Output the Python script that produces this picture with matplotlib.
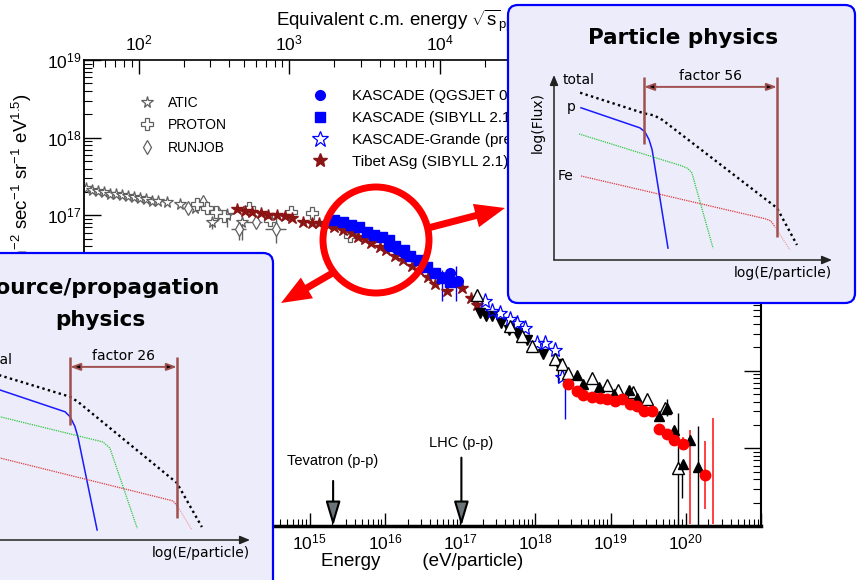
import numpy as np
import matplotlib
matplotlib.use("Agg")
import matplotlib.pyplot as plt
from matplotlib.patches import FancyBboxPatch, Circle, FancyArrow, ArrowStyle
from matplotlib.lines import Line2D
from matplotlib.ticker import LogLocator, FuncFormatter, NullFormatter

plt.rcParams['font.family'] = ['Liberation Sans', 'DejaVu Sans']
plt.rcParams['mathtext.fontset'] = 'custom'
plt.rcParams['mathtext.rm'] = 'Liberation Sans'
plt.rcParams['mathtext.it'] = 'Liberation Sans:italic'
plt.rcParams['mathtext.bf'] = 'Liberation Sans:bold'
plt.rcParams['mathtext.default'] = 'regular'

# %% data: log10(E / eV) and log10(E^2.5 J(E))
atic_logE = [12.02, 12.10, 12.18, 12.26, 12.34, 12.42, 12.50, 12.58, 12.66, 12.74,
             12.82, 12.90, 12.98, 13.10, 13.28, 13.47, 13.70, 13.90, 14.10]
atic_logF = [17.35, 17.32, 17.31, 17.30, 17.28, 17.27, 17.26, 17.25, 17.23, 17.22,
             17.21, 17.19, 17.18, 17.17, 17.14, 17.10, 16.91, 17.00, 16.91]

proton_logE = [13.50, 13.64, 13.75, 13.86, 14.20, 14.47, 14.75, 15.03, 15.53]
proton_logF = [17.14, 17.10, 17.04, 16.99, 17.09, 16.94, 17.04, 17.03, 16.74]

runjob_logE = [13.38, 13.58, 13.78, 14.06, 14.28, 14.55]
runjob_logF = [17.09, 17.17, 17.03, 16.83, 16.91, 16.82]

tibet_logE = [14.03, 14.14, 14.24, 14.35, 14.45, 14.56, 14.67, 14.77, 14.91, 15.03,
              15.13, 15.24, 15.33, 15.44, 15.56, 15.64, 15.73, 15.82, 15.93, 16.02,
              16.13, 16.24, 16.36, 16.46, 16.57, 16.66, 16.82, 17.03, 17.15, 17.23]
tibet_logF = [17.08, 17.06, 17.04, 17.03, 17.01, 17.00, 16.99, 16.96, 16.92, 16.90,
              16.90, 16.87, 16.85, 16.81, 16.77, 16.72, 16.70, 16.65, 16.59, 16.55,
              16.48, 16.42, 16.35, 16.29, 16.20, 16.12, 16.03, 16.06, 15.93, 15.84]

kas_sib_logE = [15.33, 15.44, 15.55, 15.65, 15.76, 15.86, 15.96, 16.05, 16.14, 16.25,
                16.34, 16.45, 16.56, 16.66, 16.76, 16.86]
kas_sib_logF = [16.94, 16.91, 16.88, 16.85, 16.79, 16.75, 16.72, 16.68, 16.60, 16.55,
                16.48, 16.42, 16.34, 16.26, 16.19, 16.14]

kas_qgs_logE = [16.06, 16.16, 16.25, 16.34, 16.44, 16.54, 16.65, 16.76, 16.86, 16.97]
kas_qgs_logF = [16.60, 16.57, 16.52, 16.47, 16.42, 16.34, 16.26, 16.21, 16.26, 16.16]

grande_logE = [17.33, 17.43, 17.53, 17.66, 17.75, 17.86, 18.02, 18.13, 18.26, 18.36]
grande_logF = [15.90, 15.77, 15.74, 15.67, 15.61, 15.55, 15.36, 15.35, 15.26, 14.92]

akeno_logE = [17.26, 17.35, 17.43, 17.55, 17.65, 17.75, 17.89, 18.10, 18.30]
akeno_logF = [15.74, 15.71, 15.70, 15.62, 15.52, 15.49, 15.39, 15.22, 15.08]

agasa_logE = [17.23, 17.66, 17.82, 17.95, 18.26, 18.35, 18.44, 18.75, 18.95, 19.10,
              19.30, 19.49, 19.73, 19.89]
agasa_logF = [15.97, 15.58, 15.45, 15.32, 15.15, 15.09, 14.97, 14.90, 14.82, 14.75,
              14.72, 14.64, 14.52, 13.75]

hires_logE = [18.55, 18.64, 18.84, 19.04, 19.24, 19.35, 19.65, 19.75, 19.85, 19.96,
              20.05, 20.16]
hires_logF = [14.94, 14.83, 14.79, 14.70, 14.75, 14.65, 14.42, 14.52, 14.23, 13.80,
              14.11, 13.76]

auger_logE = [18.44, 18.55, 18.64, 18.75, 18.86, 18.95, 19.06, 19.15, 19.26, 19.35,
              19.45, 19.55, 19.64, 19.75, 19.85, 19.96, 20.25]
auger_logF = [14.83, 14.74, 14.69, 14.66, 14.65, 14.64, 14.61, 14.63, 14.57, 14.54,
              14.48, 14.48, 14.25, 14.19, 14.11, 14.06, 13.66]

# vertical error bars: log E, lower and upper log flux
gray_err_logE = [13.70, 14.10, 14.06, 14.55, 13.90]
gray_err_lo = [16.82, 16.68, 16.68, 16.64, 16.85]
gray_err_hi = [16.97, 16.97, 16.90, 16.97, 17.09]
# horizontal error bars (RUNJOB)
gray_herr_logF = [16.83, 16.91, 16.82]
gray_herr_lo = [13.96, 14.16, 14.40]
gray_herr_hi = [14.16, 14.37, 14.69]

blue_err_logE = [16.76, 16.95, 18.39]
blue_err_lo = [15.90, 15.90, 14.38]
blue_err_hi = [16.29, 16.35, 15.00]

black_err_logE = [18.30, 19.89, 20.16, 19.75, 19.95]
black_err_lo = [14.85, 13.00, 13.00, 14.42, 13.36]
black_err_hi = [15.13, 14.45, 14.29, 14.64, 13.84]

red_err_logE = [20.05, 20.25, 20.36, 19.96]
red_err_lo = [13.03, 13.22, 13.03, 13.98]
red_err_hi = [14.23, 14.10, 14.39, 14.14]

# collider equivalents
tevatron_E = 2.05e15
lhc_E = 1.04e17
tevatron_top, lhc_top = 13.58, 13.88
tevatron_text, lhc_text = 13.84, 14.07

# schematic knee sketches (arbitrary log E, log flux units)
pp_total = ([0.94, 3.24, 3.60, 3.90, 8.02, 8.74], [6.33, 5.55, 5.47, 5.30, 1.97, 0.57])
pp_p = ([0.97, 3.09, 3.27, 3.42, 3.53, 4.10], [5.76, 5.00, 4.85, 4.55, 4.17, 0.45])
pp_he = ([0.90, 4.60, 4.80, 4.96, 5.72], [4.77, 3.56, 3.47, 3.30, 0.45])
pp_fe = ([0.97, 7.60, 7.80, 7.95], [3.18, 1.56, 1.48, 1.25])
pp_fe_tail = ([7.95, 8.49], [1.25, 0.38])
pp_knees = (3.24, 8.02)
pp_knee_low = (4.39, 0.87)

sp_total = ([0.94, 3.53, 3.81, 7.37, 8.27], [6.25, 5.42, 5.23, 2.16, 0.49])
sp_p = ([0.94, 3.35, 3.53, 3.70, 3.81, 4.50], [5.70, 4.85, 4.66, 4.30, 3.90, 0.38])
sp_he = ([0.94, 4.71, 4.96, 5.94], [4.68, 3.71, 3.48, 0.45])
sp_fe = ([0.94, 7.23, 7.41], [3.12, 1.48, 1.25])
sp_fe_tail = ([7.41, 7.91], [1.25, 0.38])
sp_knees = (3.53, 7.37)
sp_knee_low = (4.36, 0.83)

GRAY = '#606060'
BLUE = '#0000ff'
TIBET = '#8b1414'
BROWN = '#a0504f'

def p10(a):
    return 10 ** np.asarray(a)

fig = plt.figure(figsize=(8.57, 5.80), dpi=100)
W, H = 857.0, 580.0
ax = fig.add_axes([84 / W, 1 - 526 / H, 677 / W, 466 / H], zorder=1)
ax.set_xscale('log')
ax.set_yscale('log')
ax.set_xlim(1e12, 1e21)
ax.set_ylim(1e13, 1e19)

ax.vlines(p10(gray_err_logE), p10(gray_err_lo), p10(gray_err_hi), color=GRAY, lw=1)
ax.hlines(p10(gray_herr_logF), p10(gray_herr_lo), p10(gray_herr_hi), color=GRAY, lw=1)
ax.vlines(p10(blue_err_logE), p10(blue_err_lo), p10(blue_err_hi), color=BLUE, lw=1)
ax.vlines(p10(black_err_logE), p10(black_err_lo), p10(black_err_hi), color='black', lw=1)
ax.vlines(p10(red_err_logE), p10(red_err_lo), p10(red_err_hi), color='#ff2020', lw=1.2)

ax.plot(p10(atic_logE), p10(atic_logF), '*', ms=8.5, mfc='white', mec=GRAY, mew=0.9)
ax.plot(p10(runjob_logE), p10(runjob_logF), 'd', ms=7, mfc='white', mec=GRAY, mew=0.9)
ax.plot(p10(proton_logE), p10(proton_logF), 'P', ms=8, mfc='white', mec=GRAY, mew=0.9)
ax.plot(p10(tibet_logE), p10(tibet_logF), '*', ms=9, color=TIBET, mec=TIBET)
ax.plot(p10(kas_sib_logE), p10(kas_sib_logF), 's', ms=6.5, color=BLUE)
ax.plot(p10(kas_qgs_logE), p10(kas_qgs_logF), 'o', ms=7, color=BLUE)
ax.plot(p10(akeno_logE), p10(akeno_logF), 'v', ms=7.5, color='black')
ax.plot(p10(grande_logE), p10(grande_logF), '*', ms=11, mfc='none', mec=BLUE, mew=0.9)
ax.plot(p10(agasa_logE), p10(agasa_logF), '^', ms=8, mfc='white', mec='black', mew=1)
ax.plot(p10(hires_logE), p10(hires_logF), '^', ms=7.5, color='black')
ax.plot(p10(auger_logE), p10(auger_logF), 'o', ms=7.5, color='#ff0000')

arrow_style = ArrowStyle('-|>', head_length=1.5, head_width=0.45)
for E, top, txt_y, txt in [(tevatron_E, tevatron_top, tevatron_text, 'Tevatron (p-p)'),
                           (lhc_E, lhc_top, lhc_text, 'LHC (p-p)')]:
    ax.annotate('', xy=(E, 1e13), xytext=(E, 10 ** top),
                arrowprops=dict(arrowstyle=arrow_style, mutation_scale=10, fc='#6a7377',
                                ec='black', lw=1.5, shrinkA=0, shrinkB=0))
    ax.text(E, 10 ** txt_y, txt, ha='center', va='center', fontsize=10.5)

# legends
h_left = [Line2D([], [], ls='none', marker='*', ms=8.5, mfc='white', mec=GRAY, mew=0.9),
          Line2D([], [], ls='none', marker='P', ms=8, mfc='white', mec=GRAY, mew=0.9),
          Line2D([], [], ls='none', marker='d', ms=7, mfc='white', mec=GRAY, mew=0.9)]
leg1 = ax.legend(h_left, ['ATIC', 'PROTON', 'RUNJOB'], loc='upper left',
                 bbox_to_anchor=(140 / W, 1 - 96 / H), bbox_transform=fig.transFigure,
                 frameon=False, fontsize=10, handlelength=1.0, handletextpad=1.0,
                 labelspacing=0.6, borderpad=0, borderaxespad=0)
ax.add_artist(leg1)
h_right = [Line2D([], [], ls='none', marker='o', ms=7, color=BLUE),
           Line2D([], [], ls='none', marker='s', ms=6.5, color=BLUE),
           Line2D([], [], ls='none', marker='*', ms=12, mfc='none', mec=BLUE, mew=0.9),
           Line2D([], [], ls='none', marker='*', ms=10, color=TIBET)]
ax.legend(h_right, ['KASCADE (QGSJET 01)', 'KASCADE (SIBYLL 2.1)',
                    'KASCADE-Grande (prel.)', 'Tibet ASg (SIBYLL 2.1)'],
          loc='upper left', bbox_to_anchor=(312 / W, 1 - 89 / H),
          bbox_transform=fig.transFigure, frameon=False, fontsize=11,
          handlelength=1.0, handletextpad=1.6, labelspacing=0.52,
          borderpad=0, borderaxespad=0)

# axes styling
dec_fmt = FuncFormatter(lambda v, _: '' if v >= 1e21 else
                        r'$10^{%d}$' % int(round(np.log10(v))))
ax.xaxis.set_major_locator(LogLocator(base=10, numticks=20))
ax.xaxis.set_minor_locator(LogLocator(base=10, subs=np.arange(2, 10), numticks=200))
ax.yaxis.set_major_locator(LogLocator(base=10, numticks=20))
ax.yaxis.set_minor_locator(LogLocator(base=10, subs=np.arange(2, 10), numticks=200))
ax.xaxis.set_major_formatter(dec_fmt)
ax.yaxis.set_major_formatter(dec_fmt)
ax.xaxis.set_minor_formatter(NullFormatter())
ax.yaxis.set_minor_formatter(NullFormatter())
ax.tick_params(axis='x', which='major', direction='in', length=9.5, width=1, pad=5,
               labelsize=12.5, top=False)
ax.tick_params(axis='x', which='minor', direction='in', length=5, width=0.8, top=False)
ax.tick_params(axis='y', which='major', direction='in', length=12, width=1, pad=2,
               labelsize=12.5, right=True)
ax.tick_params(axis='y', which='minor', direction='in', length=6, width=0.8, right=True)
ax.spines['bottom'].set_linewidth(2.5)
ax.spines['left'].set_linewidth(1.3)
ax.spines['right'].set_linewidth(1.5)
ax.spines['top'].set_linewidth(1.2)
ax.set_xlabel('Energy        (eV/particle)', fontsize=13.5, labelpad=0)
fig.text(22 / W, 1 - 93 / H,
         r'E$^{2.5}$ J(E)  (m$^{-2}$ sec$^{-1}$ sr$^{-1}$ eV$^{1.5}$)',
         rotation=90, ha='center', va='top', fontsize=13.5, zorder=0.5)

axt = ax.twiny()
axt.set_xscale('log')
axt.set_xlim(np.sqrt(2 * 0.938 * 1e3), np.sqrt(2 * 0.938 * 1e12))
axt.xaxis.set_major_locator(LogLocator(base=10, numticks=20))
axt.xaxis.set_minor_locator(LogLocator(base=10, subs=np.arange(2, 10), numticks=200))
axt.xaxis.set_major_formatter(dec_fmt)
axt.xaxis.set_minor_formatter(NullFormatter())
axt.tick_params(axis='x', which='major', direction='in', length=10, width=1, pad=5,
                labelsize=12.5)
axt.tick_params(axis='x', which='minor', direction='in', length=5, width=0.8)
axt.set_xlabel(r'Equivalent c.m. energy $\sqrt{s}_{pp}$ (GeV)', fontsize=13.5, labelpad=5)
for s in axt.spines.values():
    s.set_visible(False)

# overlay: circle, arrows, inset boxes
ov = fig.add_axes([0, 0, 1, 1], zorder=3)
ov.set_xlim(0, W)
ov.set_ylim(H, 0)
ov.axis('off')
ov.patch.set_alpha(0)
ov.add_patch(Circle((376, 240), 53, fill=False, ec='#ff0000', lw=5, zorder=2))
ov.add_patch(FancyArrow(428, 228, 77, -20, width=7, head_width=24, head_length=30,
                        length_includes_head=True, color='#ff0000', lw=0, zorder=2))
ov.add_patch(FancyArrow(336, 271, -55, 32, width=7, head_width=24, head_length=30,
                        length_includes_head=True, color='#ff0000', lw=0, zorder=2))
box_kw = dict(boxstyle='round,pad=0,rounding_size=10', fc='#ececfb', ec='#0000ff',
              lw=1.6, zorder=4)
ov.add_patch(FancyBboxPatch((508, 5), 347, 298, **box_kw))
ov.add_patch(FancyBboxPatch((-30, 253), 303, 360, **box_kw))
title_kw = dict(ha='center', va='center', fontsize=15.5, fontweight='bold',
                family='DejaVu Sans', zorder=5)
ov.text(683, 38, 'Particle physics', **title_kw)
ov.text(100, 288, 'Source/propagation', **title_kw)
ov.text(100, 320, 'physics', **title_kw)


def sketch(a, total, p, he, fe, fe_tail, knees, knee_low, factor):
    a.set_xlim(0, 10)
    a.set_ylim(0, 7)
    a.axis('off')
    a.patch.set_alpha(0)
    ax_arrow = dict(arrowstyle='-|>,head_length=0.6,head_width=0.25', color='#222222',
                    lw=1.1, shrinkA=0, shrinkB=0)
    a.annotate('', xy=(10, 0), xytext=(0, 0), arrowprops=ax_arrow)
    a.annotate('', xy=(0, 7), xytext=(0, 0), arrowprops=ax_arrow)
    a.plot(*total, color='black', lw=1.7, ls=(0, (1, 1.4)))
    a.plot(*p, color='#1a1aff', lw=1.1)
    a.plot(*he, color='#2ec83a', lw=0.9, ls=(0, (1, 0.8)))
    a.plot(*fe, color='#e03a3a', lw=0.9, ls=(0, (1, 0.8)))
    a.plot(*fe_tail, color='#f2a3a3', lw=0.9, ls=(0, (1, 0.8)))
    a.vlines(knees, knee_low, 6.93, color=BROWN, lw=1.8)
    a.annotate('', xy=(knees[0], 6.55), xytext=(knees[1], 6.55),
               arrowprops=dict(arrowstyle='<|-|>,head_length=0.6,head_width=0.22',
                               fc='black', ec=BROWN, lw=1.4, shrinkA=0, shrinkB=0))
    txt = dict(family='DejaVu Sans', fontsize=10)
    a.text(np.mean(knees), 6.97, factor, ha='center', va='center', **txt)
    a.text(0.90, 6.82, 'total', ha='center', va='center', **txt)
    a.text(0.63, 5.80, 'p', ha='center', va='center', **txt)
    a.text(0.43, 3.18, 'Fe', ha='center', va='center', **txt)
    a.text(10.0, -0.50, 'log(E/particle)', ha='right', va='center', **txt)
    a.text(-0.58, 5.19, 'log(Flux)', ha='center', va='center', rotation=90, **txt)


axr = fig.add_axes([554 / W, 1 - 260 / H, 278 / W, 185 / H], zorder=5)
sketch(axr, pp_total, pp_p, pp_he, pp_fe, pp_fe_tail, pp_knees, pp_knee_low, 'factor 56')
axl = fig.add_axes([-28 / W, 1 - 540 / H, 278 / W, 185 / H], zorder=5)
sketch(axl, sp_total, sp_p, sp_he, sp_fe, sp_fe_tail, sp_knees, sp_knee_low, 'factor 26')

fig.savefig('out.png', dpi=100)
